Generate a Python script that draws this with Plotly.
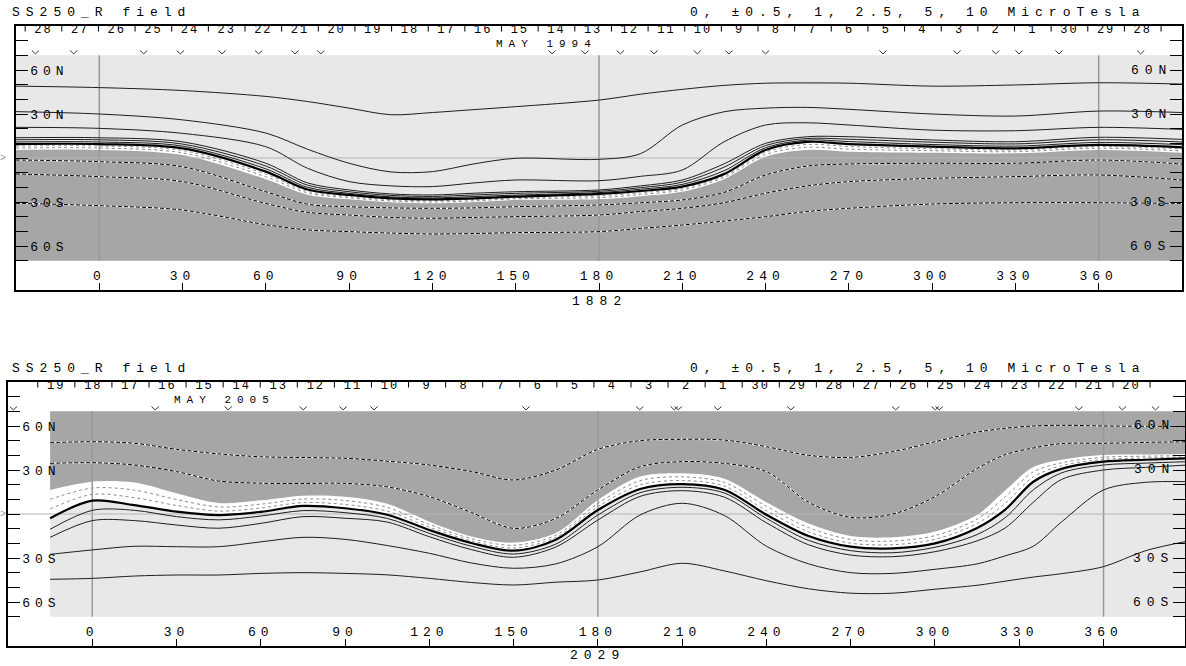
import plotly.graph_objects as go

FONT = "Liberation Mono"
FIG_W, FIG_H = 1186, 666
LIGHT = "#e8e8e8"
DARK = "#a6a6a6"
LAT_EDGE = 70          # shaded map extent (deg)
DEG_PER_DAY = 360 / 27.2753

# ---------------- Top panel: CR 1882 (May 1994) ----------------
TOP_LON = [-30, 0, 30, 60, 75, 90, 105, 120, 135, 150, 180, 195, 210, 225, 240, 255, 270, 300, 330, 360, 390]
TOP_POS_A = [49, 48, 46, 42, 38.5, 34, 29.5, 31, 33, 35, 39.5, 43.5, 46.8, 49.5, 51, 51.2, 51, 49, 49.8, 51.3, 50.4]
TOP_POS_B = [31.6, 30, 26, 17, 6, -3.6, -9.5, -9.3, -4, -0.2, -0.9, 3, 22.5, 31.5, 34, 34.5, 33.2, 30, 28.6, 32, 31]
TOP_POS_C = [20.9, 20.2, 16.8, 7.7, -7, -16.1, -19, -19.5, -17, -15, -15.5, -12.5, -8.2, 11, 22.5, 24, 22.5, 19, 18.6, 20.9, 19.5]
TOP_POS_D = [13.8, 13.8, 11, -3.6, -17, -21.8, -24.5, -25.2, -24, -23, -21.8, -19, -15, -4, 10, 14.5, 14.5, 12.3, 11.1, 14.1, 12.7]
TOP_POS_E = [12.4, 12.4, 9.5, -5.5, -18.5, -23, -25.5, -26.2, -25.2, -24.1, -22.7, -20.2, -16.5, -6.3, 8.5, 13.3, 12.8, 10.8, 9.6, 12.4, 10.9]
TOP_POS_F = [10.9, 10.9, 8.1, -7.4, -20, -24.1, -26.5, -27.2, -26.3, -25.3, -23.6, -21.3, -18, -8.7, 7, 12.2, 11.2, 9.2, 8.1, 10.6, 9.1]
TOP_NEUTRAL = [9.5, 9.5, 6.6, -9.3, -21.5, -25.2, -27.5, -28.2, -27.5, -26.4, -24.5, -22.5, -19.5, -11, 5.5, 11, 9.5, 7.7, 6.6, 8.9, 7.3]
TOP_WEAK_1 = [8.2, 8.2, 5.1, -11, -22.7, -26.2, -28.4, -29.1, -28.3, -27.1, -25.7, -23.7, -20.7, -12.2, 4, 9.2, 7.8, 6.3, 5.5, 7.8, 6.1]
TOP_WEAK_2 = [6.8, 6.8, 3.5, -12.8, -23.8, -27.2, -29.3, -30, -29.2, -27.8, -27, -24.9, -21.8, -13.3, 2.4, 7.3, 6, 5, 4.3, 6.7, 4.8]
TOP_EDGE = [5.5, 5.5, 2, -14.5, -25, -28.2, -30.2, -30.9, -30, -28.6, -28.2, -26, -23, -14.5, 0.9, 5.5, 4.3, 3.6, 3.2, 5.5, 3.6]
TOP_NEG_A = [-1.4, -2.5, -6, -23, -31.5, -33.2, -34, -34.3, -34, -33.2, -32, -30.5, -28.6, -23.5, -11.6, -5.5, -4.1, -3.6, -3.6, -1.4, -4.1]
TOP_NEG_B = [-10.9, -12.7, -16.1, -31, -37, -38.9, -40.5, -41.1, -40.5, -40, -38.9, -36.5, -34.3, -30.5, -24, -19, -16.1, -13.9, -12.7, -11.6, -15]
TOP_NEG_C = [-30.9, -32.5, -35.5, -45.5, -49, -50.2, -51.2, -51.8, -51.5, -50.9, -50.2, -48, -45.7, -43, -40, -36.5, -34.3, -31.4, -30.5, -30.5, -31]
TOP_DAYS = [28, 27, 26, 25, 24, 23, 22, 21, 20, 19, 18, 17, 16, 15, 14, 13, 12, 11, 10, 9, 8, 7, 6, 5, 4, 3, 2, 1, 30, 29, 28]
TOP_DAY_START = -26.7
TOP_MARKS = [-23, -9.2, 16, 29.2, 44.2, 57.4, 70.5, 79.8, 163.1, 175, 187.7, 199.8, 215.4, 226.8, 240,
             282.3, 309, 322.9, 331.3, 345.7, 375.1]
TOP_MONTH = "MAY 1994"
TOP_MONTH_LON = 161
TOP_ROTATION = "1882"

# ---------------- Bottom panel: CR 2029 (May 2005) ----------------
BOT_LON = [-15, 0, 15, 30, 45, 60, 75, 90, 105, 120, 135, 150, 165, 180, 195, 210, 225, 240, 255, 270, 285,
           300, 315, 325, 335, 345, 360, 375, 390]
BOT_NEG_A = [48.6, 49.3, 48.2, 44.1, 41, 39, 38.5, 38, 36, 33.4, 29, 23.2, 30, 44.1, 50, 50.9, 50.4, 45.9, 40,
             38.6, 42.5, 49.3, 55.8, 58.5, 60, 60.5, 60, 59.8, 59.5]
BOT_NEG_B = [34.5, 35, 33.4, 28.9, 22.5, 21, 20.8, 20.9, 18.5, 11.8, 1, -9.8, -3, 16.4, 32.2, 35.7, 34.5, 28.9,
             8, -2.3, 0, 11.8, 31, 40.5, 45, 48, 48.2, 48.8, 49.3]
BOT_EDGE = [16.4, 22, 21.4, 14.1, 7.5, 9.3, 12.5, 11.8, 7, -5.2, -15.3, -19.5, -13, 9.5, 25.5, 27.7, 24, 8, -6.5,
            -15, -15.9, -12, -0.5, 16, 32, 37, 40.2, 40.6, 40.9]
BOT_WEAK_1 = [10, 17.7, 16.3, 9.9, 4.8, 6.7, 10.2, 9.2, 4.5, -7.1, -16.8, -21.3, -14.5, 7.2, 22.7, 25.3, 21.5,
              5.2, -9.3, -17.4, -18.4, -14.7, -3.5, 11.7, 28.7, 34.9, 38.7, 39.4, 39.9]
BOT_WEAK_2 = [3.5, 13.4, 11.1, 5.8, 2, 4.1, 7.8, 6.5, 2, -9, -18.3, -23.2, -16, 5, 19.8, 22.8, 19, 2.3, -12.2,
              -19.9, -20.9, -17.3, -6.5, 7.3, 25.3, 32.9, 37.2, 38.2, 38.9]
BOT_NEUTRAL = [-2.9, 9.1, 6, 1.6, -0.7, 1.5, 5.5, 3.9, -0.5, -10.9, -19.8, -25, -17.5, 2.7, 17, 20.4, 16.5,
               -0.5, -15, -22.3, -23.4, -20, -9.5, 3, 22, 30.8, 35.7, 37, 38]
BOT_POS_A = [-10.4, 2.5, 2.5, -1.8, -4, -1.4, 2.3, 0.9, -3, -13.2, -22, -27.3, -20.5, -0.7, 14.5, 18.2, 14.3,
             -3, -18, -25, -26.4, -22.7, -14, -2.5, 16.5, 28, 33.4, 34.7, 35.7]
BOT_POS_B = [-15.9, -4.5, -4.5, -7.5, -9.7, -6.4, -1.8, -2.9, -5.5, -15.5, -24.3, -29.5, -22.5, -4.1, 12, 15.9,
             11.5, -6, -21, -28, -29.1, -25.7, -18.3, -9.5, 8, 23.5, 30, 31.8, 33.4]
BOT_POS_C = [-27.5, -24.5, -22, -22.3, -22.3, -19, -15.9, -17.3, -21.5, -26.8, -33.4, -37, -34, -22.3, -0.7,
             7.3, -1, -22, -34, -40, -40.5, -37.7, -34, -28.5, -22, -5.5, 16.4, 21.6, 22]
BOT_POS_D = [-44.5, -43.9, -42.3, -41.6, -41.6, -40.5, -40, -40.5, -41.5, -43.9, -46.7, -48.4, -46.5, -45,
             -39.5, -33.6, -38.8, -45.5, -51, -54, -54, -51.3, -48.6, -45.8, -43, -40.7, -35.9, -25, -18.5]
BOT_DAYS = [19, 18, 17, 16, 15, 14, 13, 12, 11, 10, 9, 8, 7, 6, 5, 4, 3, 2, 1, 30, 29, 28, 27, 26, 25, 24, 23,
            22, 21, 20]
BOT_DAY_START = -19.4
BOT_MARKS = [-28.1, 22.4, 48.4, 75.1, 89.3, 100.3, 154.4, 194.9, 207.2, 208.6, 222.7, 248.7, 286, 300.1,
             301.5, 351.2, 366.7, 378.5]
BOT_MONTH = "MAY 2005"
BOT_MONTH_LON = 47
BOT_ROTATION = "2029"

TITLE = "SS250_R field"
LEVELS_TEXT = "0, ±0.5, 1, 2.5, 5, 10 MicroTesla"
MERIDIANS = [0, 180, 360]
LON_TICKS = list(range(0, 361, 30))
LAT_TICKS = list(range(-80, 81, 10))
LAT_LABEL_VALUES = [60, 30, -30, -60]
LAT_LABEL_TEXT = ["60N", "30N", "30S", "60S"]


def lat_ticktext(v):
    return LAT_LABEL_TEXT[LAT_LABEL_VALUES.index(v)] if v in LAT_LABEL_VALUES else ""


fig = go.Figure()

PANELS = [
    dict(xa="x", ya="y", xdom=(16, 1182), ydom=(26, 290), xrng=(-30, 390), lon=TOP_LON,
         neutral=TOP_NEUTRAL, edge=TOP_EDGE, weak=[TOP_WEAK_1, TOP_WEAK_2],
         pos=[TOP_POS_A, TOP_POS_B, TOP_POS_C, TOP_POS_D, TOP_POS_E, TOP_POS_F],
         neg=[TOP_NEG_A, TOP_NEG_B, TOP_NEG_C], dark_south=True,
         days=TOP_DAYS, day_start=TOP_DAY_START, marks=TOP_MARKS,
         month=TOP_MONTH, month_lon=TOP_MONTH_LON, rot=TOP_ROTATION, title_px=13, rot_px=301),
    dict(xa="x2", ya="y2", xdom=(8, 1185), ydom=(382, 646), xrng=(-30, 389), lon=BOT_LON,
         neutral=BOT_NEUTRAL, edge=BOT_EDGE, weak=[BOT_WEAK_1, BOT_WEAK_2],
         pos=[BOT_POS_A, BOT_POS_B, BOT_POS_C, BOT_POS_D],
         neg=[BOT_NEG_A, BOT_NEG_B], dark_south=False,
         days=BOT_DAYS, day_start=BOT_DAY_START, marks=BOT_MARKS,
         month=BOT_MONTH, month_lon=BOT_MONTH_LON, rot=BOT_ROTATION, title_px=368, rot_px=655),
]

SPL = dict(shape="spline", smoothing=0.9)
MARK_HALF_W, MARK_TOP, MARK_TIP = 1.3, 73.3, 71.0   # chevron glyph size (deg)
DAY_LAT, SEP_LAT, MONTH_LAT = 87.0, 88.6, 77.6
annotations = []
layout_axes = {}

for i, p in enumerate(PANELS):
    xa, ya, lon = p["xa"], p["ya"], p["lon"]
    n = len(lon)
    common = dict(xaxis=xa, yaxis=ya, hoverinfo="skip", showlegend=False)
    light_bound = [LAT_EDGE if p["dark_south"] else -LAT_EDGE] * n
    dark_bound = [-v for v in light_bound]
    # fills: light (positive) -> white weak band -> dark (negative)
    fig.add_trace(go.Scatter(x=lon, y=light_bound, mode="lines", line=dict(width=0), **common))
    fig.add_trace(go.Scatter(x=lon, y=p["neutral"], mode="lines", line=dict(width=0, **SPL),
                             fill="tonexty", fillcolor=LIGHT, **common))
    fig.add_trace(go.Scatter(x=lon, y=p["edge"], mode="lines", line=dict(width=0, **SPL),
                             fill="tonexty", fillcolor="white", **common))
    fig.add_trace(go.Scatter(x=lon, y=dark_bound, mode="lines", line=dict(width=0),
                             fill="tonexty", fillcolor=DARK, **common))
    # reference meridians and equator
    mx, my = [], []
    for m in MERIDIANS:
        mx += [m, m, None]
        my += [-LAT_EDGE, LAT_EDGE, None]
    fig.add_trace(go.Scatter(x=mx, y=my, mode="lines", line=dict(color="#999999", width=1.5), **common))
    fig.add_trace(go.Scatter(x=list(p["xrng"]), y=[0, 0], mode="lines",
                             line=dict(color="#b4b4b4", width=1), **common))
    # weak-field dotted contours
    for w in p["weak"]:
        fig.add_trace(go.Scatter(x=lon, y=w, mode="lines",
                                 line=dict(color="#8c8c8c", width=1, dash="dot", **SPL), **common))
    # positive contours
    for c in p["pos"]:
        fig.add_trace(go.Scatter(x=lon, y=c, mode="lines",
                                 line=dict(color="#1e1e1e", width=1, **SPL), **common))
    # negative contours (black dashes on white)
    for c in p["neg"]:
        fig.add_trace(go.Scatter(x=lon, y=c, mode="lines",
                                 line=dict(color="white", width=1.2, **SPL), **common))
        fig.add_trace(go.Scatter(x=lon, y=c, mode="lines",
                                 line=dict(color="black", width=1, dash="4px,2px", **SPL), **common))
    # neutral line
    fig.add_trace(go.Scatter(x=lon, y=p["neutral"], mode="lines",
                             line=dict(color="black", width=2.2, **SPL), **common))
    # day-of-month header
    days = p["days"]
    fig.add_trace(go.Scatter(x=[p["day_start"] + (k + 0.5) * DEG_PER_DAY for k in range(len(days))],
                             y=[DAY_LAT] * len(days), mode="text", text=[str(d) for d in days],
                             textfont=dict(family=FONT, size=12, color="black"), **common))
    fig.add_trace(go.Scatter(x=[p["day_start"] + k * DEG_PER_DAY for k in range(len(days) + 1)],
                             y=[SEP_LAT] * (len(days) + 1), mode="markers",
                             marker=dict(symbol="line-ns", size=5, line=dict(width=1, color="black")),
                             cliponaxis=False, **common))
    # event marks drawn as small chevrons
    vx, vy = [], []
    for m in p["marks"]:
        vx += [m - MARK_HALF_W, m, m + MARK_HALF_W, None]
        vy += [MARK_TOP, MARK_TIP, MARK_TOP, None]
    fig.add_trace(go.Scatter(x=vx, y=vy, mode="lines", line=dict(color="#333333", width=1),
                             cliponaxis=False, **common))

    # axes
    xdom = [p["xdom"][0] / FIG_W, p["xdom"][1] / FIG_W]
    ydom = [1 - p["ydom"][1] / FIG_H, 1 - p["ydom"][0] / FIG_H]
    xkey = "xaxis" if i == 0 else "xaxis2"
    ykey = "yaxis" if i == 0 else "yaxis2"
    layout_axes[xkey] = dict(domain=xdom, range=list(p["xrng"]), anchor=ya, tickvals=LON_TICKS,
                             ticks="inside", ticklen=7, tickcolor="black", ticklabelposition="inside",
                             showline=True, linecolor="black", linewidth=1.5, mirror=True,
                             showgrid=False, zeroline=False,
                             tickfont=dict(family=FONT, size=13, color="black"))
    layout_axes[ykey] = dict(domain=ydom, range=[-90, 90], anchor=xa, tickvals=LAT_TICKS,
                             ticktext=[lat_ticktext(v) for v in LAT_TICKS],
                             ticks="inside", ticklen=12, tickcolor="black", ticklabelposition="inside",
                             ticklabelstandoff=2,
                             showline=True, linecolor="black", linewidth=1.5, mirror="ticks",
                             showgrid=False, zeroline=False,
                             tickfont=dict(family=FONT, size=13, color="black"))

    # texts
    tf = dict(family=FONT, size=13, color="black")
    annotations.append(dict(text=TITLE, xref="paper", yref="paper", x=10 / FIG_W,
                            y=1 - p["title_px"] / FIG_H, xanchor="left", yanchor="middle", align="left",
                            showarrow=False, font=tf))
    annotations.append(dict(text=LEVELS_TEXT, xref="paper", yref="paper", x=1148 / FIG_W,
                            y=1 - p["title_px"] / FIG_H, xanchor="right", yanchor="middle", align="right",
                            showarrow=False, font=tf))
    annotations.append(dict(text=p["month"], xref=xa, yref=ya, x=p["month_lon"], y=MONTH_LAT,
                            xanchor="center", yanchor="middle", showarrow=False,
                            font=dict(family=FONT, size=11, color="black")))
    annotations.append(dict(text=p["rot"], xref=xa, yref="paper", x=180, y=1 - p["rot_px"] / FIG_H,
                            xanchor="center", yanchor="middle", showarrow=False, font=tf))
    annotations.append(dict(text=">", xref="paper", yref=ya, x=1 / FIG_W, y=0, xanchor="left",
                            yanchor="middle", showarrow=False,
                            font=dict(family=FONT, size=10, color="#999999")))
    for v, t in zip(LAT_LABEL_VALUES, LAT_LABEL_TEXT):
        annotations.append(dict(text=t, xref=xa, yref=ya, x=p["xrng"][1], y=v, xanchor="right",
                                align="right", yanchor="middle", xshift=-8, showarrow=False, font=tf))

fig.update_layout(
    width=FIG_W, height=FIG_H, autosize=False,
    margin=dict(l=0, r=0, t=0, b=0, pad=0),
    paper_bgcolor="white", plot_bgcolor="white",
    showlegend=False, hovermode=False,
    annotations=annotations,
    **layout_axes,
)

CSS_JS = (
    "document.body.style.margin='0';document.body.style.overflow='hidden';"
    "var st=document.createElement('style');"
    "st.textContent='g.annotation text{letter-spacing:6px;} "
    "g.xtick text, g.x2tick text, g.ytick text, g.y2tick text{letter-spacing:5px;} "
    "g.textpoint text{letter-spacing:2px;}';"
    "document.head.appendChild(st);"
)

fig.write_html("out.html", post_script=CSS_JS, config={"displayModeBar": False})
